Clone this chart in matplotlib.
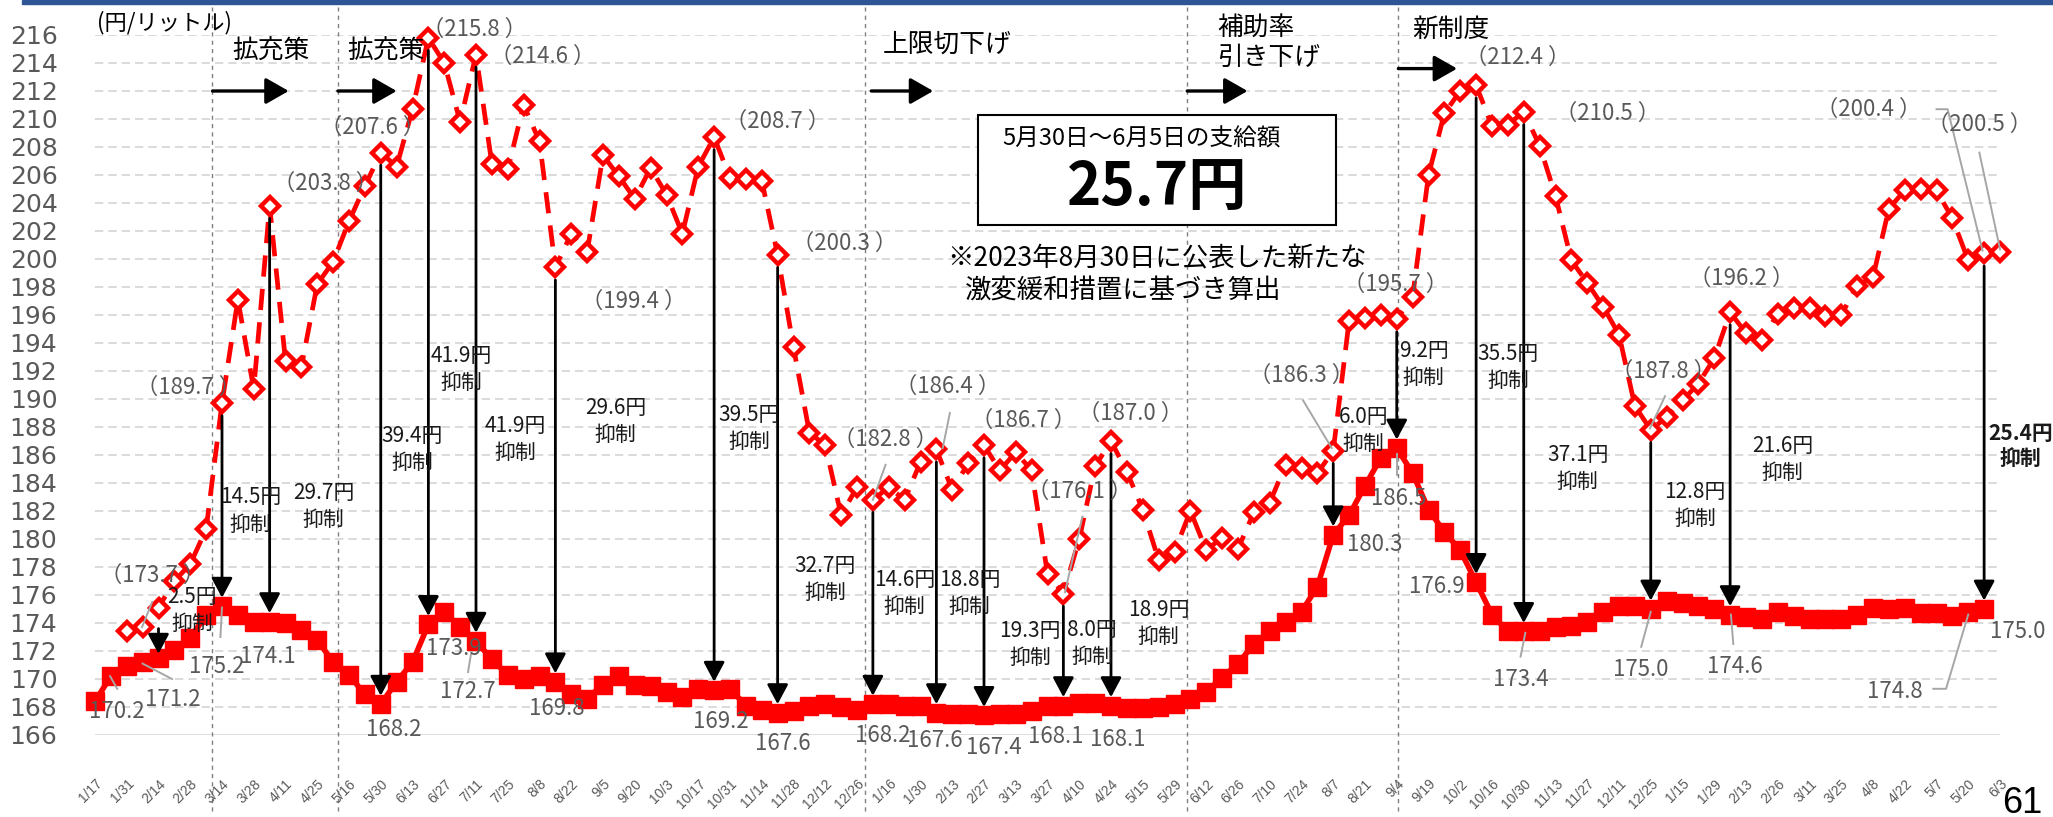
import numpy as np
import matplotlib
matplotlib.use('Agg')
import matplotlib.pyplot as plt
from matplotlib.patches import Rectangle

plt.rcParams['font.family'] = ['Noto Sans CJK JP', 'DejaVu Sans']

nan = np.nan
# ---------------- data ----------------
x_labels = ['1/17', '1/31', '2/14', '2/28', '3/14', '3/28', '4/11', '4/25', '5/16', '5/30',
            '6/13', '6/27', '7/11', '7/25', '8/8', '8/22', '9/5', '9/20', '10/3', '10/17',
            '10/31', '11/14', '11/28', '12/12', '12/26', '1/16', '1/30', '2/13', '2/27', '3/13',
            '3/27', '4/10', '4/24', '5/15', '5/29', '6/12', '6/26', '7/10', '7/24', '8/7',
            '8/21', '9/4', '9/19', '10/2', '10/16', '10/30', '11/13', '11/27', '12/11', '12/25',
            '1/15', '1/29', '2/13', '2/26', '3/11', '3/25', '4/8', '4/22', '5/7', '5/20', '6/3']

# price without subsidy (dashed, diamonds)
no_subsidy = [nan, nan, 173.4, 173.7, 175.1, 177.0, 178.2, 180.7, 189.7, 197.1,
              190.7, 203.8, 192.7, 192.3, 198.2, 199.8, 202.7, 205.2, 207.6, 206.6,
              210.7, 215.8, 214.0, 209.8, 214.6, 206.8, 206.4, 211.0, 208.4, 199.4,
              201.8, 200.5, 207.4, 205.9, 204.3, 206.5, 204.6, 201.8, 206.6, 208.7,
              205.8, 205.7, 205.6, 200.3, 193.7, 187.6, 186.7, 181.7, 183.7, 182.8,
              183.7, 182.8, 185.5, 186.4, 183.5, 185.4, 186.7, 184.9, 186.2, 184.9,
              177.5, 176.1, 180.0, 185.2, 187.0, 184.8, 182.1, 178.5, 179.1, 182.0,
              179.2, 180.1, 179.3, 181.9, 182.6, 185.3, 185.1, 184.7, 186.3, 195.6,
              195.8, 196.0, 195.7, 197.3, 206.0, 210.4, 212.0, 212.4, 209.5, 209.6,
              210.5, 208.1, 204.5, 199.9, 198.3, 196.6, 194.6, 189.5, 187.8, 188.7,
              189.9, 191.1, 192.9, 196.2, 194.7, 194.2, 196.1, 196.5, 196.5, 195.9,
              196.0, 198.1, 198.7, 203.6, 204.9, 205.0, 204.9, 202.9, 199.9, 200.4,
              200.5]

# actual retail price (solid, squares)
retail = [168.4, 170.2, 170.9, 171.2, 171.5, 172.1, 172.9, 174.6, 175.2, 174.6,
          174.1, 174.1, 174.0, 173.5, 172.8, 171.2, 170.3, 168.9, 168.2, 169.8,
          171.2, 173.9, 174.8, 173.7, 172.7, 171.4, 170.3, 170.0, 170.2, 169.8,
          168.9, 168.6, 169.6, 170.2, 169.6, 169.5, 169.1, 168.7, 169.3, 169.2,
          169.3, 168.1, 167.8, 167.6, 167.7, 168.1, 168.2, 168.0, 167.8, 168.2,
          168.2, 168.1, 168.1, 167.6, 167.5, 167.5, 167.4, 167.5, 167.5, 167.7,
          168.1, 168.1, 168.3, 168.3, 168.1, 167.9, 167.9, 168.0, 168.2, 168.6,
          169.1, 170.1, 171.1, 172.5, 173.4, 174.1, 174.8, 176.6, 180.3, 181.7,
          183.8, 185.8, 186.5, 184.7, 182.1, 180.5, 179.2, 176.9, 174.6, 173.4,
          173.4, 173.4, 173.7, 173.8, 174.1, 174.8, 175.2, 175.2, 175.0, 175.6,
          175.4, 175.2, 175.0, 174.6, 174.4, 174.3, 174.8, 174.5, 174.3, 174.3,
          174.3, 174.6, 175.1, 175.0, 175.1, 174.7, 174.7, 174.5, 174.8, 175.0,
          nan]

# suppression arrows: category index and amount (円)
arrow_idx = [8, 11, 18, 21, 24, 29, 39, 43, 49, 53, 56, 61, 64, 78, 82, 87, 90, 98, 103, 119]
supp_amounts = ['2.5', '14.5', '29.7', '39.4', '41.9', '41.9', '29.6', '39.5', '32.7', '14.6',
                '18.8', '19.3', '8.0', '18.9', '6.0', '9.2', '35.5', '37.1', '12.8', '21.6', '25.4']

# policy events
policy_texts = ['拡充策', '拡充策', '上限切下げ', '補助率\n引き下げ', '新制度']

# ---------------- figure ----------------
W, H = 2053, 817
fig = plt.figure(figsize=(W / 100, H / 100), dpi=100)
x0px, x1px, ytop, ybot = 95, 2000, 35, 735
ax = fig.add_axes([x0px / W, (H - ybot) / H, (x1px - x0px) / W, (ybot - ytop) / H])
ax.set_xlim(0, 120)
ax.set_ylim(166, 216)
for s in ax.spines.values():
    s.set_visible(False)

# top blue bar
fig.patches.append(Rectangle((22 / W, 1 - 4 / H), 1 - 22 / W, 4 / H,
                             transform=fig.transFigure, color='#2F5597', zorder=10))

# grid
for yv in range(168, 217, 2):
    ax.plot([0, 120], [yv, yv], color='#D4D4D4', lw=1.2, ls=(0, (5, 3)), zorder=0)
ax.plot([0, 120], [166, 166], color='#D4D4D4', lw=1.8, zorder=0)

yt = list(range(166, 217, 2))
ax.set_yticks(yt)
ax.set_yticklabels([str(v) for v in yt], fontsize=18, color='#595959', family='DejaVu Sans')
ax.tick_params(axis='y', length=0, pad=27)

ax.set_xticks(range(0, 121, 2))
ax.set_xticklabels(x_labels, fontsize=10, color='#595959', rotation=45, ha='right',
                   va='top', rotation_mode='anchor', family=['Liberation Sans', 'DejaVu Sans'])
ax.tick_params(axis='x', length=0, pad=30)

# vertical dashed event lines
for xv in [7.39, 15.3, 48.5, 68.8, 82.1]:
    ax.plot([xv, xv], [160.6, 218.0], color='#7F7F7F', lw=1, ls=(0, (3, 3)),
            clip_on=False, zorder=1)

xs = np.arange(len(retail))
ax.plot(xs, no_subsidy, color='#FF0000', lw=3.4, dashes=(4.5, 2.6), marker='D', ms=9,
        mfc='white', mec='#FF0000', mew=3.2, zorder=3, clip_on=False)
ax.plot(xs, retail, color='#FF0000', lw=4, marker='s', ms=13, mfc='#FF0000',
        mec='#FF0000', zorder=3, clip_on=False)

# suppression arrows
def varrow(x, y_from, y_to):
    ax.annotate('', xy=(x, y_to), xytext=(x, y_from),
                arrowprops=dict(arrowstyle='-|>,head_length=0.6,head_width=0.32',
                                color='black', lw=2, shrinkA=0, shrinkB=0,
                                mutation_scale=20),
                annotation_clip=False, zorder=5)

varrow(4, 173.6, 171.8)
for i in arrow_idx:
    varrow(i, no_subsidy[i] - 0.9, retail[i] + 0.6)

# suppression labels
supp_pos = [(6.1, 174.9), (9.8, 182.0), (14.4, 182.3), (20.0, 186.4), (23.1, 192.1),
            (26.5, 187.1), (32.8, 188.4), (41.2, 187.9), (46.0, 177.1), (51.0, 176.1),
            (55.1, 176.1), (58.9, 172.45), (62.8, 172.55), (67.0, 173.95), (79.9, 187.75),
            (83.7, 192.45), (89.0, 192.25), (93.4, 185.05), (100.8, 182.4), (106.3, 185.7),
            (121.3, 186.6)]
for k, (amt, (px, py)) in enumerate(zip(supp_amounts, supp_pos)):
    bold = (k == len(supp_amounts) - 1)
    ax.text(px, py, f'{amt}円\n抑制', fontsize=15, color='#1A1A1A', ha='center', va='center',
            linespacing=1.3, fontweight='bold' if bold else 'normal', zorder=6, clip_on=False)

# value labels (gray)
def par(v):
    return f'（{v} ）'

value_labels = [
    ('170.2', 1.4, 167.7), ('171.2', 4.9, 168.5), (par('173.7'), 3.6, 177.4),
    (par('189.7'), 5.9, 190.8), ('175.2', 7.7, 170.9), ('174.1', 10.9, 171.6),
    (par('203.8'), 14.5, 205.4), (par('207.6'), 17.5, 209.4), ('168.2', 18.8, 166.4),
    (par('215.8'), 23.9, 216.4), (par('214.6'), 28.2, 214.5), ('173.9', 22.6, 172.2),
    ('172.7', 23.5, 169.1), ('169.8', 29.1, 167.9), (par('199.4'), 33.9, 197.0),
    (par('208.7'), 43.0, 209.8), ('169.2', 39.4, 167.0), (par('200.3'), 47.2, 201.1),
    ('167.6', 43.3, 165.4), (par('182.8'), 49.8, 187.1), ('168.2', 49.6, 166.0),
    (par('186.4'), 53.7, 190.9), ('167.6', 52.9, 165.6), (par('186.7'), 58.5, 188.5),
    ('167.4', 56.6, 165.1), (par('176.1'), 62.0, 183.4), ('168.1', 60.5, 165.9),
    ('168.1', 64.4, 165.7), (par('187.0'), 65.2, 189.0), (par('186.3'), 76.0, 191.7),
    ('180.3', 80.6, 179.6), (par('195.7'), 81.9, 198.2), ('186.5', 82.1, 182.9),
    ('176.9', 84.5, 176.6), (par('212.4'), 89.6, 214.4), (par('210.5'), 95.3, 210.4),
    ('173.4', 89.8, 170.0), (par('187.8'), 98.8, 192.0), ('175.0', 97.4, 170.7),
    (par('196.2'), 103.7, 198.6), ('174.6', 103.3, 170.9), (par('200.4'), 111.7, 210.7),
    (par('200.5'), 118.7, 209.6), ('174.8', 113.4, 169.1), ('175.0', 121.1, 173.4),
]
for t, px, py in value_labels:
    ax.text(px, py, t, fontsize=16, color='#595959', ha='center', va='center',
            zorder=6, clip_on=False)

# leader lines
leaders = [
    [(3.6, 175.5), (2.96, 173.7)], [(3.0, 171.1), (4.85, 170.0)], [(0.95, 170.2), (1.4, 169.3)],
    [(8.0, 175.1), (7.9, 173.0)], [(23.7, 171.9), (23.5, 170.5)], [(49.8, 185.3), (49.0, 182.8)],
    [(53.85, 189.0), (53.4, 186.5)], [(62.2, 181.6), (61.1, 176.2)], [(76.1, 189.9), (77.9, 186.5)],
    [(82.0, 186.1), (82.0, 184.6)], [(90.1, 173.3), (89.8, 171.6)], [(98.9, 190.2), (97.95, 187.9)],
    [(98.0, 174.8), (97.4, 172.3)], [(103.05, 174.6), (103.2, 172.5)],
    [(116.0, 210.7), (116.7, 210.7), (118.9, 200.6)], [(118.7, 207.6), (120.0, 200.7)],
    [(115.8, 169.3), (116.6, 169.3), (118.0, 174.6)],
]
for pts in leaders:
    lx, ly = zip(*pts)
    ax.plot(lx, ly, color='#A6A6A6', lw=1.4, zorder=4, clip_on=False)

# policy arrows and texts
def harrow(xa, xb, y):
    ax.annotate('', xy=(xb, y), xytext=(xa, y),
                arrowprops=dict(arrowstyle='-|>,head_length=0.7,head_width=0.4',
                                color='black', lw=2.4, shrinkA=0, shrinkB=0,
                                mutation_scale=20),
                annotation_clip=False, zorder=5)

harrow(7.4, 12.2, 212.0)
harrow(15.3, 19.0, 212.0)
harrow(48.9, 52.8, 212.0)
harrow(68.8, 72.6, 212.0)
harrow(82.1, 85.8, 213.6)

policy_pos = [(11.1, 214.8, 'center'), (18.3, 214.8, 'center'), (53.7, 215.3, 'center'),
              (70.7, 215.45, 'left'), (83.0, 216.4, 'left')]
for t, (px, py, ha) in zip(policy_texts, policy_pos):
    ax.text(px, py, t, fontsize=18.5, color='black', ha=ha, va='center',
            linespacing=1.2, zorder=6, clip_on=False)

ax.text(0.1, 216.9, '(円/リットル)', fontsize=16, color='black', ha='left', va='center',
        clip_on=False)

# info box
ax.add_patch(Rectangle((55.6, 202.4), 78.2 - 55.6, 210.3 - 202.4, facecolor='white',
                       edgecolor='black', lw=1.5, zorder=6))
ax.text(65.9, 208.6, '5月30日～6月5日の支給額', fontsize=17, color='black',
        ha='center', va='center', zorder=7)
ax.text(66.9, 205.1, '25.7円', fontsize=42, fontweight='bold', color='black',
        ha='center', va='center', zorder=7)
ax.text(53.7, 200.0, '※2023年8月30日に公表した新たな', fontsize=19, color='black',
        ha='left', va='center', zorder=7)
ax.text(54.8, 197.7, '激変緩和措置に基づき算出', fontsize=19, color='black',
        ha='left', va='center', zorder=7)

# page number
fig.text(2002 / W, 4 / H, '61', fontsize=26, family='Liberation Sans', ha='left',
         va='baseline', color='black')

fig.savefig('out.png', dpi=100)
